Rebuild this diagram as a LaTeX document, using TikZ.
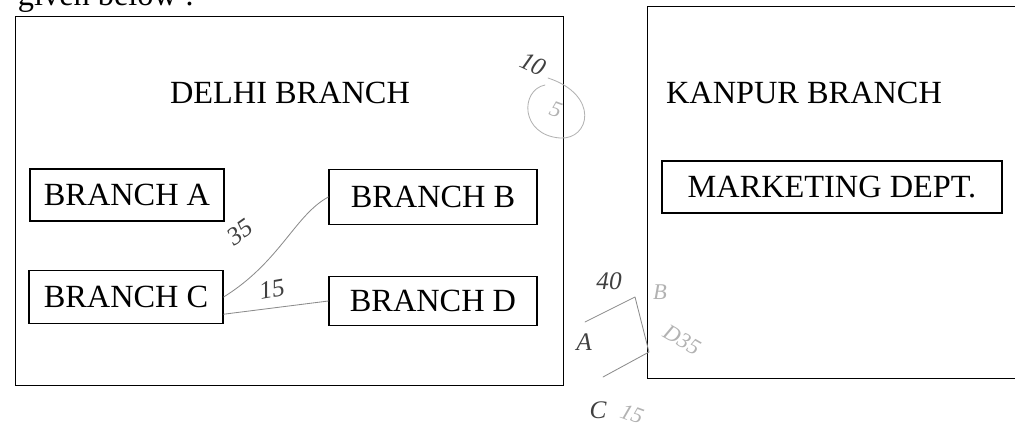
\documentclass[tikz,border=0pt]{standalone}
\usepackage{fontspec}
\setmainfont{Liberation Serif}
\usetikzlibrary{positioning}

\begin{document}
\begin{tikzpicture}[x=0.025cm,y=-0.025cm,
		office/.style={draw,line width=0.9pt,inner sep=0pt,minimum height=1.3cm,font=\fontsize{23}{27}\selectfont},
		title/.style={font=\fontsize{23}{27}\selectfont},
		pencil/.style={draw=black!45,line width=0.6pt,line cap=round,line join=round},
		scrawl/.style={text=black!75,font=\fontsize{18}{18}\selectfont\itshape,inner sep=0pt},
		faint/.style={text=black!30,font=\fontsize{16}{16}\selectfont\itshape,inner sep=0pt}]
				\useasboundingbox (0,0) rectangle (1015,433);
				\clip (0,0) rectangle (1015,433);
				\node[title,anchor=base west] (given) at (13,6) {given below :};
				\draw[line width=0.7pt] (15,16) rectangle (563,385);
				\draw[line width=0.7pt] (647,6) rectangle (1040,378);
				\node[title] (delhi) at (290,93) {DELHI BRANCH};
				\node[title] (kanpur) at (804,93) {KANPUR BRANCH};
				\node[office,minimum width=4.85cm] (A) at (127,195) {BRANCH A};
				\node[office,minimum width=5.2cm,minimum height=1.38cm] (B) at (433,197) {BRANCH B};
				\node[office,minimum width=4.85cm,minimum height=1.33cm] (C) at (126,297) {BRANCH C};
				\node[office,minimum width=5.2cm,minimum height=1.23cm] (D) at (433,301) {BRANCH D};
				\node[office,minimum width=8.5cm] (M) at (832,187) {MARKETING DEPT.};
				\draw[pencil] (C.east) .. controls (280,262) and (295,215) .. (B.west);
				\draw[pencil] (C.-10) -- (D.west);
				\node[scrawl,rotate=35] (cb) at (240,232) {35};
				\node[scrawl,rotate=10] (cd) at (272,289) {15};
				\node[scrawl,rotate=-25] (ten) at (533,64) {10};
				\draw[pencil,black!30] (548,78) .. controls (600,95) and (590,140) .. (560,138) .. controls (520,135) and (520,90) .. (545,85);
				\node[faint,rotate=-20] (tenb) at (556,110) {5};
				\node[scrawl] (forty) at (609,281) {40};
				\node[scrawl] (sa) at (584,342) {A};
				\node[faint] (sb) at (660,292) {B};
				\node[faint,rotate=-30] (sd) at (682,340) {D35};
				\node[scrawl] (sc) at (598,410) {C};
				\node[faint,rotate=-20] (sc15) at (632,414) {15};
				\coordinate (ka) at (585,322);
				\coordinate (kb) at (635,297);
				\coordinate (kd) at (649,352);
				\coordinate (kc) at (603,377);
				\draw[pencil] (ka) -- (kb) -- (kd) -- (kc);
\end{tikzpicture}
\end{document}
